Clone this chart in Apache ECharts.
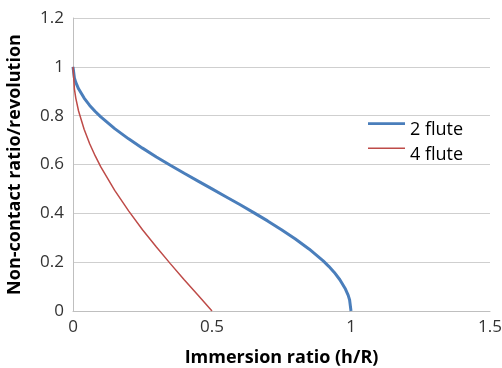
<!DOCTYPE html>
<html>
<head>
<meta charset="utf-8">
<script src="https://cdn.jsdelivr.net/npm/echarts@6/dist/echarts.min.js"></script>
<style>
  html, body { margin: 0; padding: 0; background: #fff; }
  #chart { width: 502px; height: 368px; }
</style>
</head>
<body>
<div id="chart"></div>
<script>
// values
var flute2X = [0, 0.005, 0.01, 0.02, 0.04, 0.06, 0.08, 0.1, 0.15, 0.2, 0.25, 0.3, 0.35, 0.4, 0.45, 0.5,
  0.55, 0.6, 0.65, 0.7, 0.75, 0.8, 0.85, 0.9, 0.92, 0.94, 0.96, 0.98, 0.99, 0.995, 1];
var flute2Y = [1, 0.955, 0.936, 0.91, 0.872, 0.842, 0.817, 0.795, 0.747, 0.705, 0.667, 0.631, 0.597, 0.564, 0.532, 0.5,
  0.468, 0.436, 0.403, 0.369, 0.333, 0.295, 0.253, 0.205, 0.183, 0.158, 0.128, 0.09, 0.064, 0.045, 0];
var flute4X = [0, 0.005, 0.01, 0.02, 0.04, 0.06, 0.08, 0.1, 0.15, 0.2, 0.25, 0.3, 0.35, 0.4, 0.45, 0.5];
var flute4Y = [1, 0.91, 0.872, 0.819, 0.744, 0.685, 0.635, 0.59, 0.494, 0.41, 0.333, 0.262, 0.194, 0.128, 0.064, 0];

function pairs(xs, ys) {
  var out = [];
  for (var i = 0; i < xs.length; i++) out.push([xs[i], ys[i]]);
  return out;
}

var font = '"Open Sans", "Noto Sans", sans-serif';
var chart = echarts.init(document.getElementById('chart'));

// legend keys: a short bar near the top of the item box (a tiny dot at the bottom keeps the box 40x20)
var blueKey = 'path://M0,3H40V6H0Z M0,19.99H0.01V20H0Z';
var redKey = 'path://M0,4H40V5.5H0Z M0,19.99H0.01V20H0Z';

chart.setOption({
  animation: false,
  textStyle: { fontFamily: font },
  grid: { left: 73, right: 12, top: 18, bottom: 57, containLabel: false, outerBoundsMode: 'none' },
  legend: {
    orient: 'vertical',
    left: 363,
    top: 116,
    itemWidth: 37,
    itemHeight: 20,
    itemGap: 7,
    textStyle: { fontSize: 18, color: '#000', fontFamily: font },
    data: [
      { name: '2 flute', icon: blueKey },
      { name: '4 flute', icon: redKey }
    ]
  },
  xAxis: {
    type: 'value',
    min: 0, max: 1.5, interval: 0.5,
    name: 'Immersion ratio (h/R)',
    nameLocation: 'middle',
    nameGap: 38,
    nameTextStyle: { fontSize: 18, fontWeight: 'bold', color: '#000' },
    axisLine: { show: true, lineStyle: { color: '#bfbfbf', width: 1 } },
    axisTick: { show: false },
    axisLabel: { fontSize: 17, color: '#333', margin: 8 },
    splitLine: { show: false }
  },
  yAxis: {
    type: 'value',
    min: 0, max: 1.2, interval: 0.2,
    name: 'Non-contact ratio/revolution',
    nameLocation: 'middle',
    nameGap: 49,
    nameTextStyle: { fontSize: 18, fontWeight: 'bold', color: '#000' },
    axisLine: { show: true, lineStyle: { color: '#bfbfbf', width: 1 } },
    axisTick: { show: false },
    axisLabel: { fontSize: 17, color: '#333', margin: 9 },
    splitLine: { show: true, lineStyle: { color: '#cfcfcf', width: 1 } }
  },
  series: [
    {
      name: '2 flute',
      type: 'line',
      symbol: 'none',
      color: '#4a7ebb',
      lineStyle: { width: 3, color: '#4a7ebb' },
      data: pairs(flute2X, flute2Y)
    },
    {
      name: '4 flute',
      type: 'line',
      symbol: 'none',
      color: '#be4b48',
      lineStyle: { width: 1.5, color: '#be4b48' },
      data: pairs(flute4X, flute4Y)
    }
  ]
});
</script>
</body>
</html>
